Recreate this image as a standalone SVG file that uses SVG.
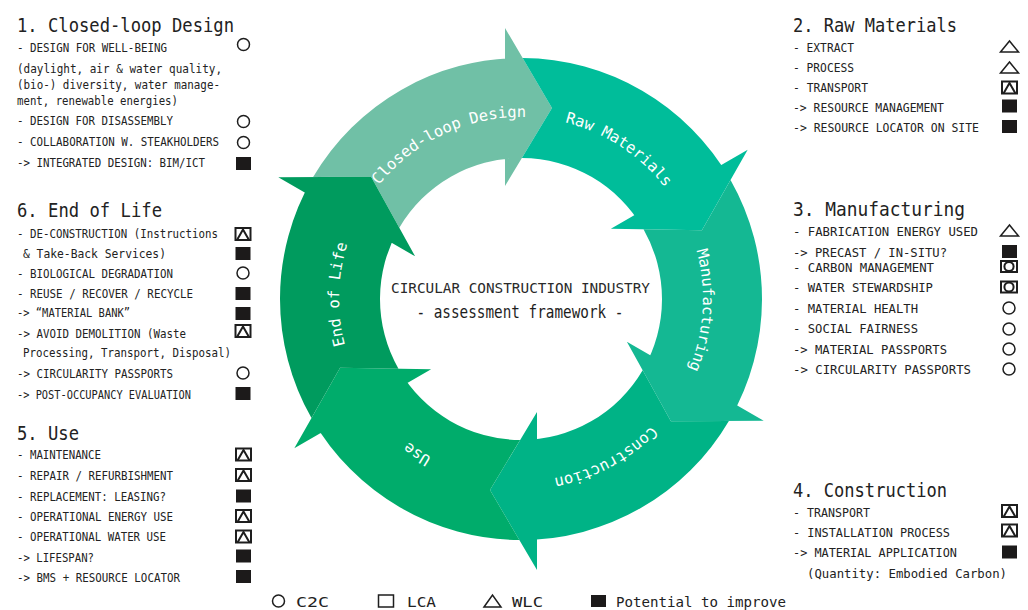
<svg xmlns="http://www.w3.org/2000/svg" width="1028" height="610" viewBox="0 0 1028 610">
  <style>
    .t { font-family: "DejaVu Sans Mono", "Liberation Mono", monospace; font-size: 12.5px; fill: #222; }
    .h { font-family: "DejaVu Sans Mono", "Liberation Mono", monospace; font-size: 19px; fill: #222; }
    .lg { font-family: "DejaVu Sans Mono", "Liberation Mono", monospace; font-size: 14.5px; fill: #222; }
    .ring { font-family: "DejaVu Sans Mono", "Liberation Mono", monospace; font-size: 15.5px; fill: #ffffff; }
    .title1 { font-family: "DejaVu Sans Mono", "Liberation Mono", monospace; font-size: 14.5px; fill: #2a2a2a; }
    .title2 { font-family: "DejaVu Sans Mono", "Liberation Mono", monospace; font-size: 17px; fill: #1e1e1e; }
    .so { fill: none; stroke: #1e1e1e; stroke-width: 1.5; }
    .sb { fill: none; stroke: #1e1e1e; stroke-width: 2; }
    .fill { fill: #1c1a1a; }
  </style>
  <defs>
    <!-- one ring segment (body with tail notch + arrowhead), boundary at 12 o'clock -->
    <path id="seg-shape" d="M313.11,177.09 A241,241 0 0 1 521,58 L521,158 A141,141 0 0 0 399.33,227.75 L371.09,176.65 Z M505,28 L552,108 L505,186 Z"/>
    <!-- clockwise label track, starting at 6 o'clock -->
    <path id="label-track" d="M521,481 A182,182 0 1 1 521,117 A182,182 0 1 1 521,481"/>
    <!-- rating symbols -->
    <g id="s-c2c"><circle r="6" class="so"/></g>
    <g id="s-wlc"><path d="M-9,5.5 L0,-5.5 L9,5.5 Z" class="so"/></g>
    <g id="s-lw"><rect x="-7.5" y="-6" width="15" height="12" class="sb"/><path d="M-6,6 L0,-4.5 L6,6" class="sb"/></g>
    <g id="s-lc"><rect x="-8" y="-5.5" width="16" height="11" class="sb"/><circle r="4.6" class="sb"/></g>
    <g id="s-imp"><rect x="-7.5" y="-6.5" width="15" height="13" class="fill"/></g>
  </defs>

  <rect width="1028" height="610" fill="#ffffff"/>

  <!-- cycle segments -->
  <g id="seg-closed-loop-design">
    <use href="#seg-shape" fill="#70c0a6"/>
    <text class="ring" text-anchor="middle"><textPath href="#label-track" startOffset="43.1%">Closed-loop Design</textPath></text>
  </g>
  <g id="seg-raw-materials">
    <use href="#seg-shape" fill="#00bd9a" transform="rotate(60 521 299)"/>
    <text class="ring" text-anchor="middle"><textPath href="#label-track" startOffset="59.2%">Raw Materials</textPath></text>
  </g>
  <g id="seg-manufacturing">
    <use href="#seg-shape" fill="#14b893" transform="rotate(120 521 299)"/>
    <text class="ring" text-anchor="middle"><textPath href="#label-track" startOffset="76%">Manufacturing</textPath></text>
  </g>
  <g id="seg-construction">
    <use href="#seg-shape" fill="#00b386" transform="rotate(180 521 299)"/>
    <text class="ring" text-anchor="middle"><textPath href="#label-track" startOffset="92.2%">Construction</textPath></text>
  </g>
  <g id="seg-use">
    <use href="#seg-shape" fill="#00ac6b" transform="rotate(240 521 299)"/>
    <text class="ring" text-anchor="middle"><textPath href="#label-track" startOffset="9.4%">Use</textPath></text>
  </g>
  <g id="seg-end-of-life">
    <use href="#seg-shape" fill="#009b5e" transform="rotate(300 521 299)"/>
    <text class="ring" text-anchor="middle"><textPath href="#label-track" startOffset="25.4%">End of Life</textPath></text>
  </g>

  <!-- centre title -->
  <g id="title">
    <text class="title1" x="520.5" y="292.5" text-anchor="middle" textLength="259" lengthAdjust="spacingAndGlyphs">CIRCULAR CONSTRUCTION INDUSTRY</text>
    <text class="title2" x="520" y="317.5" text-anchor="middle" textLength="207" lengthAdjust="spacingAndGlyphs">- assessment framework -</text>
  </g>

  <!-- 1. Closed-loop Design -->
  <g id="list-closed-loop-design">
    <text class="h" x="17" y="32" textLength="217" lengthAdjust="spacingAndGlyphs">1. Closed-loop Design</text>
    <text class="t" x="17" y="51.5" textLength="150" lengthAdjust="spacingAndGlyphs">- DESIGN FOR WELL-BEING</text>
    <text class="t" x="17" y="72.5" textLength="205" lengthAdjust="spacingAndGlyphs">(daylight, air &amp; water quality,</text>
    <text class="t" x="17" y="88.5" textLength="203" lengthAdjust="spacingAndGlyphs">(bio-) diversity, water manage-</text>
    <text class="t" x="17" y="104.5" textLength="161" lengthAdjust="spacingAndGlyphs">ment, renewable energies)</text>
    <text class="t" x="17" y="125" textLength="156" lengthAdjust="spacingAndGlyphs">- DESIGN FOR DISASSEMBLY</text>
    <text class="t" x="17" y="145.5" textLength="202" lengthAdjust="spacingAndGlyphs">- COLLABORATION W. STEAKHOLDERS</text>
    <text class="t" x="17" y="166.5" textLength="188" lengthAdjust="spacingAndGlyphs">-&gt; INTEGRATED DESIGN: BIM/ICT</text>
    <use href="#s-c2c" x="243.5" y="44.5"/>
    <use href="#s-c2c" x="243.5" y="121.5"/>
    <use href="#s-c2c" x="243.5" y="142.5"/>
    <use href="#s-imp" x="243.5" y="163.5"/>
  </g>

  <!-- 6. End of Life -->
  <g id="list-end-of-life">
    <text class="h" x="17" y="217" textLength="145" lengthAdjust="spacingAndGlyphs">6. End of Life</text>
    <text class="t" x="17" y="237.7" textLength="201" lengthAdjust="spacingAndGlyphs">- DE-CONSTRUCTION (Instructions</text>
    <text class="t" x="23" y="257.5" textLength="143" lengthAdjust="spacingAndGlyphs">&amp; Take-Back Services)</text>
    <text class="t" x="17" y="277.5" textLength="156" lengthAdjust="spacingAndGlyphs">- BIOLOGICAL DEGRADATION</text>
    <text class="t" x="17" y="297.5" textLength="176" lengthAdjust="spacingAndGlyphs">- REUSE / RECOVER / RECYCLE</text>
    <text class="t" x="17" y="317" textLength="113" lengthAdjust="spacingAndGlyphs">-&gt; “MATERIAL BANK”</text>
    <text class="t" x="17" y="337.5" textLength="169" lengthAdjust="spacingAndGlyphs">-&gt; AVOID DEMOLITION (Waste</text>
    <text class="t" x="23" y="357" textLength="208" lengthAdjust="spacingAndGlyphs">Processing, Transport, Disposal)</text>
    <text class="t" x="17" y="378" textLength="156" lengthAdjust="spacingAndGlyphs">-&gt; CIRCULARITY PASSPORTS</text>
    <text class="t" x="17" y="399" textLength="174" lengthAdjust="spacingAndGlyphs">-&gt; POST-OCCUPANCY EVALUATION</text>
    <use href="#s-lw" x="243" y="234"/>
    <use href="#s-imp" x="243" y="253.5"/>
    <use href="#s-c2c" x="243" y="273"/>
    <use href="#s-imp" x="243" y="293.5"/>
    <use href="#s-imp" x="243" y="313.5"/>
    <use href="#s-lw" x="243" y="331"/>
    <use href="#s-c2c" x="243" y="373"/>
    <use href="#s-imp" x="243" y="393.5"/>
  </g>

  <!-- 5. Use -->
  <g id="list-use">
    <text class="h" x="17" y="439.5" textLength="62" lengthAdjust="spacingAndGlyphs">5. Use</text>
    <text class="t" x="17" y="459" textLength="84" lengthAdjust="spacingAndGlyphs">- MAINTENANCE</text>
    <text class="t" x="17" y="480" textLength="156" lengthAdjust="spacingAndGlyphs">- REPAIR / REFURBISHMENT</text>
    <text class="t" x="17" y="500.5" textLength="149" lengthAdjust="spacingAndGlyphs">- REPLACEMENT: LEASING?</text>
    <text class="t" x="17" y="520.5" textLength="156" lengthAdjust="spacingAndGlyphs">- OPERATIONAL ENERGY USE</text>
    <text class="t" x="17" y="541" textLength="149" lengthAdjust="spacingAndGlyphs">- OPERATIONAL WATER USE</text>
    <text class="t" x="17" y="561.5" textLength="77" lengthAdjust="spacingAndGlyphs">-&gt; LIFESPAN?</text>
    <text class="t" x="17" y="581.5" textLength="163" lengthAdjust="spacingAndGlyphs">-&gt; BMS + RESOURCE LOCATOR</text>
    <use href="#s-lw" x="243.5" y="454.5"/>
    <use href="#s-lw" x="243.5" y="475"/>
    <use href="#s-imp" x="243.5" y="496"/>
    <use href="#s-lw" x="243.5" y="516"/>
    <use href="#s-lw" x="243.5" y="536.5"/>
    <use href="#s-imp" x="243.5" y="556"/>
    <use href="#s-imp" x="243.5" y="576.5"/>
  </g>

  <!-- 2. Raw Materials -->
  <g id="list-raw-materials">
    <text class="h" x="793" y="31.5" textLength="164" lengthAdjust="spacingAndGlyphs">2. Raw Materials</text>
    <text class="t" x="793" y="51.5" textLength="61" lengthAdjust="spacingAndGlyphs">- EXTRACT</text>
    <text class="t" x="793" y="72" textLength="61" lengthAdjust="spacingAndGlyphs">- PROCESS</text>
    <text class="t" x="793" y="92" textLength="75" lengthAdjust="spacingAndGlyphs">- TRANSPORT</text>
    <text class="t" x="793" y="112" textLength="151" lengthAdjust="spacingAndGlyphs">-&gt; RESOURCE MANAGEMENT</text>
    <text class="t" x="793" y="132" textLength="186" lengthAdjust="spacingAndGlyphs">-&gt; RESOURCE LOCATOR ON SITE</text>
    <use href="#s-wlc" x="1009.5" y="46.5"/>
    <use href="#s-wlc" x="1009.5" y="67.5"/>
    <use href="#s-lw" x="1009.5" y="87.5"/>
    <use href="#s-imp" x="1009.5" y="106"/>
    <use href="#s-imp" x="1009.5" y="126.5"/>
  </g>

  <!-- 3. Manufacturing -->
  <g id="list-manufacturing">
    <text class="h" x="793" y="216" textLength="172" lengthAdjust="spacingAndGlyphs">3. Manufacturing</text>
    <text class="t" x="793" y="235.7" textLength="185" lengthAdjust="spacingAndGlyphs">- FABRICATION ENERGY USED</text>
    <text class="t" x="793" y="257" textLength="154" lengthAdjust="spacingAndGlyphs">-&gt; PRECAST / IN-SITU?</text>
    <text class="t" x="793" y="271.7" textLength="141" lengthAdjust="spacingAndGlyphs">- CARBON MANAGEMENT</text>
    <text class="t" x="793" y="292" textLength="140" lengthAdjust="spacingAndGlyphs">- WATER STEWARDSHIP</text>
    <text class="t" x="793" y="312.5" textLength="125" lengthAdjust="spacingAndGlyphs">- MATERIAL HEALTH</text>
    <text class="t" x="793" y="333" textLength="125" lengthAdjust="spacingAndGlyphs">- SOCIAL FAIRNESS</text>
    <text class="t" x="793" y="353.5" textLength="154" lengthAdjust="spacingAndGlyphs">-&gt; MATERIAL PASSPORTS</text>
    <text class="t" x="793" y="373.5" textLength="178" lengthAdjust="spacingAndGlyphs">-&gt; CIRCULARITY PASSPORTS</text>
    <use href="#s-wlc" x="1009.5" y="230.5"/>
    <use href="#s-imp" x="1009.5" y="251.5"/>
    <use href="#s-lc" x="1009" y="266.5"/>
    <use href="#s-lc" x="1009" y="287"/>
    <use href="#s-c2c" x="1009" y="308"/>
    <use href="#s-c2c" x="1009" y="329"/>
    <use href="#s-c2c" x="1009" y="349"/>
    <use href="#s-c2c" x="1009" y="369"/>
  </g>

  <!-- 4. Construction -->
  <g id="list-construction">
    <text class="h" x="793" y="497" textLength="154" lengthAdjust="spacingAndGlyphs">4. Construction</text>
    <text class="t" x="793" y="517" textLength="77" lengthAdjust="spacingAndGlyphs">- TRANSPORT</text>
    <text class="t" x="793" y="537" textLength="157" lengthAdjust="spacingAndGlyphs">- INSTALLATION PROCESS</text>
    <text class="t" x="793" y="557" textLength="164" lengthAdjust="spacingAndGlyphs">-&gt; MATERIAL APPLICATION</text>
    <text class="t" x="807" y="577.5" textLength="200" lengthAdjust="spacingAndGlyphs">(Quantity: Embodied Carbon)</text>
    <use href="#s-lw" x="1009.5" y="511"/>
    <use href="#s-lw" x="1009.5" y="530.5"/>
    <use href="#s-imp" x="1009.5" y="552"/>
  </g>

  <!-- legend -->
  <g id="legend">
    <circle cx="278.5" cy="601" r="6" class="so"/>
    <text class="lg" x="296" y="606.5" textLength="33" lengthAdjust="spacingAndGlyphs">C2C</text>
    <rect x="378.5" y="595" width="15" height="12" class="so"/>
    <text class="lg" x="407" y="606.5" textLength="29" lengthAdjust="spacingAndGlyphs">LCA</text>
    <path d="M484,607 L492.5,595 L501,607 Z" class="so"/>
    <text class="lg" x="512" y="606.5" textLength="31" lengthAdjust="spacingAndGlyphs">WLC</text>
    <rect x="591" y="595" width="15" height="12" class="fill"/>
    <text class="lg" x="616" y="606.5" textLength="170" lengthAdjust="spacingAndGlyphs">Potential to improve</text>
  </g>
</svg>
